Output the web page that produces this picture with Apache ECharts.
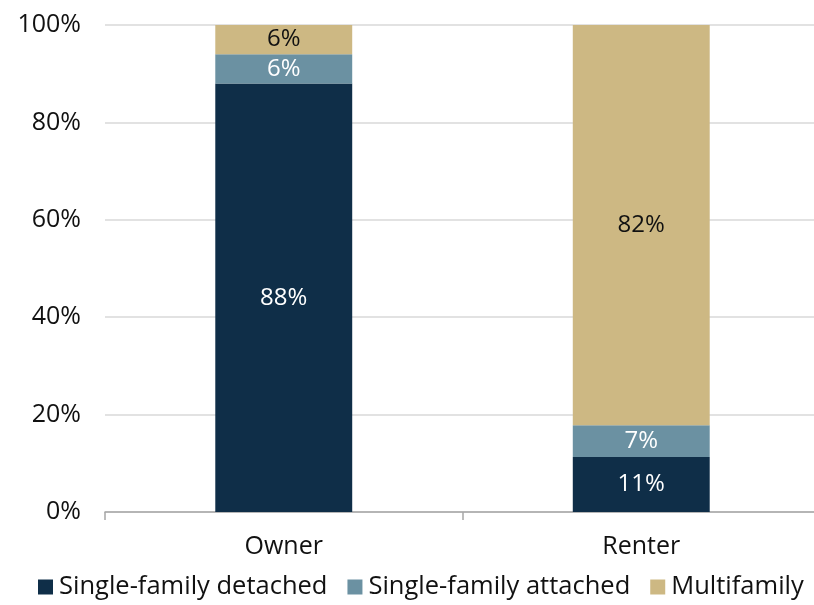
<!DOCTYPE html>
<html><head><meta charset="utf-8">
<script src="https://cdn.jsdelivr.net/npm/echarts@6/dist/echarts.min.js"></script>
<style>html,body{margin:0;padding:0;background:#fff;overflow:hidden}#c{width:828px;height:605px}</style>
</head><body><div id="c"></div>
<script>
const categories = ['Owner', 'Renter'];
const detached = [88, 11.3];
const attached = [6, 6.5];
const multifamily = [6, 82.2];
const yTicks = [0, 20, 40, 60, 80, 100];

const FONT = '"Open Sans", "Liberation Sans", Arial, sans-serif';
const lbl = (color) => ({
  show: true, position: 'inside', color: color, fontSize: 24, fontFamily: FONT,
  formatter: p => Math.round(p.value) + '%'
});
const chart = echarts.init(document.getElementById('c'));
chart.setOption({
  animation: false,
  grid: { left: 105, right: 8, top: 25, bottom: 93 },
  legend: {
    bottom: 0, left: 33, itemWidth: 15, itemHeight: 15, itemGap: 20,
    icon: 'rect',
    textStyle: { fontSize: 25.5, fontFamily: FONT, color: '#111', padding: [0, 0, 0, 1] },
    data: ['Single-family detached', 'Single-family attached', 'Multifamily']
  },
  xAxis: {
    type: 'category', data: categories,
    axisLine: { lineStyle: { color: '#a6a6a6', width: 1.5 } },
    axisTick: { show: true, length: 8, lineStyle: { color: '#a6a6a6', width: 1.5 } },
    axisLabel: { fontSize: 25, fontFamily: FONT, color: '#111', margin: 22 }
  },
  yAxis: {
    type: 'value', min: yTicks[0], max: yTicks[yTicks.length - 1], interval: 20,
    axisLine: { show: false }, axisTick: { show: false },
    splitLine: { lineStyle: { color: '#d9d9d9', width: 1.5 } },
    axisLabel: { fontSize: 25, fontFamily: FONT, color: '#111', margin: 24, formatter: v => v + '%' }
  },
  series: [
    { name: 'Single-family detached', type: 'bar', stack: 's', data: detached, barWidth: '38.3%',
      itemStyle: { color: '#0f2e48' }, label: lbl('#fff') },
    { name: 'Single-family attached', type: 'bar', stack: 's', data: attached,
      itemStyle: { color: '#6b91a2' }, label: lbl('#fff') },
    { name: 'Multifamily', type: 'bar', stack: 's', data: multifamily,
      itemStyle: { color: '#cdb883' }, label: lbl('#111') }
  ]
});
</script></body></html>
